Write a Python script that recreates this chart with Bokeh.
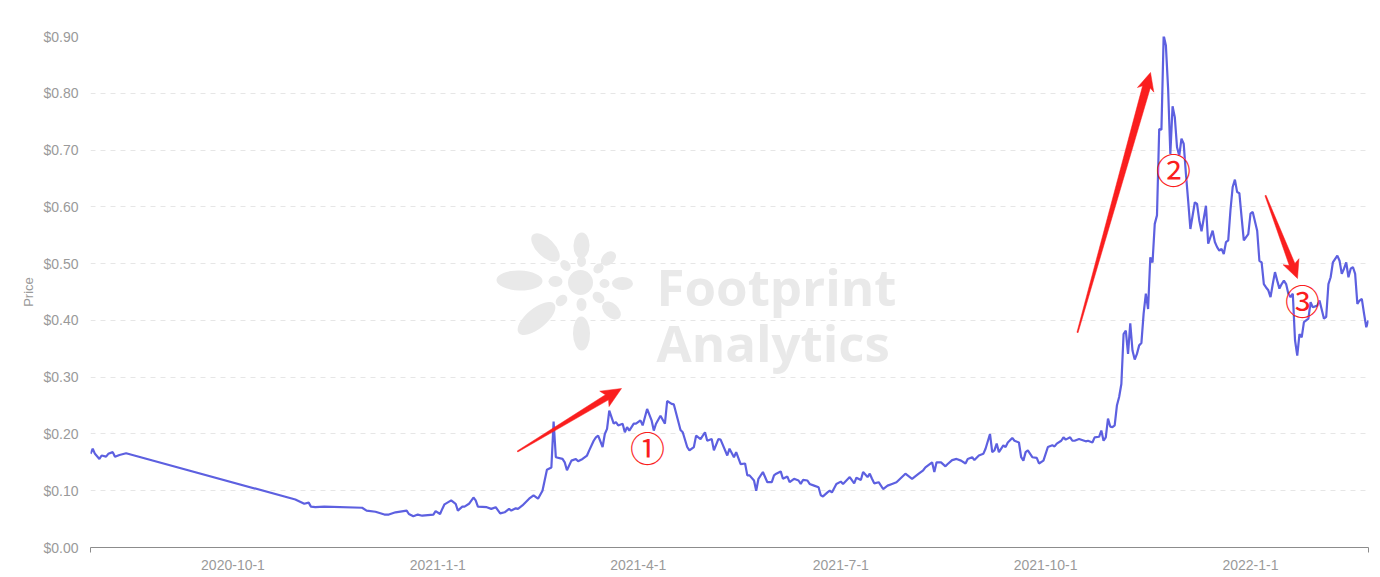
import math
from datetime import datetime, timedelta
import pandas as pd
from bokeh.plotting import figure
from bokeh.models import FixedTicker, NumeralTickFormatter, Range1d, ColumnDataSource
from bokeh.core.properties import value
from bokeh.embed import file_html
from bokeh.resources import INLINE

# ---------------- data ----------------
dates = [
    "2020-07-29", "2020-07-30", "2020-07-31", "2020-08-02", "2020-08-03", "2020-08-05", "2020-08-06",
    "2020-08-08", "2020-08-09", "2020-08-11", "2020-08-14",
    "2020-10-29", "2020-11-02", "2020-11-04", "2020-11-05", "2020-11-07", "2020-11-11", "2020-11-28",
    "2020-11-30", "2020-12-04", "2020-12-08", "2020-12-10", "2020-12-13", "2020-12-18", "2020-12-19",
    "2020-12-21", "2020-12-23", "2020-12-25", "2020-12-30", "2020-12-31",
    "2021-01-02", "2021-01-03", "2021-01-04", "2021-01-07", "2021-01-09", "2021-01-10", "2021-01-12",
    "2021-01-13", "2021-01-15", "2021-01-17", "2021-01-18", "2021-01-19", "2021-01-23", "2021-01-25",
    "2021-01-27", "2021-01-29", "2021-01-31",
    "2021-02-02", "2021-02-03", "2021-02-05", "2021-02-06", "2021-02-08", "2021-02-11", "2021-02-13",
    "2021-02-15", "2021-02-17", "2021-02-19", "2021-02-21", "2021-02-22", "2021-02-23", "2021-02-26",
    "2021-02-27", "2021-02-28",
    "2021-03-02", "2021-03-04", "2021-03-05", "2021-03-07", "2021-03-09", "2021-03-10", "2021-03-12",
    "2021-03-13", "2021-03-14", "2021-03-16", "2021-03-17", "2021-03-18", "2021-03-19", "2021-03-21",
    "2021-03-22", "2021-03-23", "2021-03-25", "2021-03-26", "2021-03-27", "2021-03-28", "2021-03-30",
    "2021-03-31",
    "2021-04-02", "2021-04-03", "2021-04-05", "2021-04-07", "2021-04-08", "2021-04-09", "2021-04-11",
    "2021-04-13", "2021-04-14", "2021-04-16", "2021-04-17", "2021-04-20", "2021-04-21", "2021-04-23",
    "2021-04-24", "2021-04-26", "2021-04-27", "2021-04-29",
    "2021-05-01", "2021-05-02", "2021-05-04", "2021-05-05", "2021-05-07", "2021-05-08", "2021-05-11",
    "2021-05-12", "2021-05-14", "2021-05-15", "2021-05-17", "2021-05-19", "2021-05-20", "2021-05-21",
    "2021-05-23", "2021-05-24", "2021-05-25", "2021-05-27", "2021-05-29", "2021-05-31",
    "2021-06-01", "2021-06-02", "2021-06-04", "2021-06-05", "2021-06-07", "2021-06-08", "2021-06-10",
    "2021-06-12", "2021-06-13", "2021-06-14", "2021-06-16", "2021-06-17", "2021-06-19", "2021-06-21",
    "2021-06-22", "2021-06-23", "2021-06-25", "2021-06-26", "2021-06-27", "2021-06-29",
    "2021-07-01", "2021-07-02", "2021-07-05", "2021-07-07", "2021-07-08", "2021-07-10", "2021-07-11",
    "2021-07-13", "2021-07-14", "2021-07-15", "2021-07-16", "2021-07-18", "2021-07-20", "2021-07-22",
    "2021-07-24", "2021-07-26", "2021-07-30",
    "2021-08-02", "2021-08-05", "2021-08-07", "2021-08-08", "2021-08-11", "2021-08-12", "2021-08-13",
    "2021-08-15", "2021-08-17", "2021-08-18", "2021-08-20", "2021-08-22", "2021-08-24", "2021-08-26",
    "2021-08-27", "2021-08-29", "2021-08-30",
    "2021-09-01", "2021-09-03", "2021-09-04", "2021-09-06", "2021-09-07", "2021-09-08", "2021-09-09",
    "2021-09-10", "2021-09-12", "2021-09-13", "2021-09-14", "2021-09-16", "2021-09-17", "2021-09-19",
    "2021-09-20", "2021-09-21", "2021-09-22", "2021-09-23", "2021-09-25", "2021-09-27", "2021-09-28",
    "2021-09-30",
    "2021-10-02", "2021-10-04", "2021-10-05", "2021-10-06", "2021-10-08", "2021-10-09", "2021-10-10",
    "2021-10-12", "2021-10-13", "2021-10-14", "2021-10-16", "2021-10-19", "2021-10-20", "2021-10-22",
    "2021-10-23", "2021-10-25", "2021-10-26", "2021-10-27", "2021-10-28", "2021-10-29", "2021-10-30",
    "2021-10-31",
    "2021-11-01", "2021-11-02", "2021-11-03", "2021-11-04", "2021-11-05", "2021-11-06", "2021-11-07",
    "2021-11-08", "2021-11-09", "2021-11-10", "2021-11-11", "2021-11-12", "2021-11-13", "2021-11-14",
    "2021-11-15", "2021-11-16", "2021-11-17", "2021-11-18", "2021-11-19", "2021-11-20", "2021-11-21",
    "2021-11-22", "2021-11-23", "2021-11-24", "2021-11-25", "2021-11-26", "2021-11-27", "2021-11-28",
    "2021-11-29", "2021-11-30",
    "2021-12-01", "2021-12-02", "2021-12-03", "2021-12-04", "2021-12-05", "2021-12-07", "2021-12-08",
    "2021-12-09", "2021-12-10", "2021-12-12", "2021-12-13", "2021-12-15", "2021-12-16", "2021-12-17",
    "2021-12-18", "2021-12-19", "2021-12-20", "2021-12-21", "2021-12-22", "2021-12-23", "2021-12-24",
    "2021-12-25", "2021-12-26", "2021-12-27", "2021-12-28", "2021-12-29", "2021-12-31",
    "2022-01-01", "2022-01-02", "2022-01-04", "2022-01-05", "2022-01-06", "2022-01-07", "2022-01-08",
    "2022-01-09", "2022-01-10", "2022-01-11", "2022-01-12", "2022-01-13", "2022-01-14", "2022-01-15",
    "2022-01-16", "2022-01-17", "2022-01-18", "2022-01-19", "2022-01-20", "2022-01-21", "2022-01-22",
    "2022-01-23", "2022-01-24", "2022-01-25", "2022-01-27", "2022-01-28", "2022-01-29", "2022-01-31",
    "2022-02-01", "2022-02-03", "2022-02-04", "2022-02-05", "2022-02-06", "2022-02-07", "2022-02-09",
    "2022-02-10", "2022-02-11", "2022-02-12", "2022-02-13", "2022-02-14", "2022-02-15", "2022-02-16",
    "2022-02-17", "2022-02-18", "2022-02-19", "2022-02-20", "2022-02-21", "2022-02-22", "2022-02-23",
]
prices = [
    0.165, 0.174, 0.165, 0.156, 0.162, 0.160, 0.165,
    0.168, 0.160, 0.163, 0.166,
    0.0845, 0.077, 0.079, 0.072, 0.071, 0.072, 0.070,
    0.065, 0.063, 0.058, 0.058, 0.062, 0.065, 0.059,
    0.055, 0.058, 0.056, 0.058, 0.064,
    0.059, 0.068, 0.076, 0.083, 0.077, 0.065, 0.072,
    0.072, 0.077, 0.088, 0.083, 0.072, 0.071, 0.068,
    0.071, 0.060, 0.062,
    0.068, 0.065, 0.069, 0.068, 0.074, 0.086, 0.092,
    0.086, 0.100, 0.137, 0.141, 0.222, 0.159, 0.156,
    0.150, 0.136,
    0.153, 0.156, 0.152, 0.156, 0.162, 0.171, 0.188,
    0.194, 0.197, 0.177, 0.200, 0.209, 0.241, 0.218,
    0.221, 0.215, 0.218, 0.203, 0.212, 0.206, 0.218,
    0.218,
    0.224, 0.215, 0.244, 0.224, 0.206, 0.218, 0.232,
    0.218, 0.258, 0.253, 0.252, 0.207, 0.203, 0.177,
    0.171, 0.177, 0.197, 0.191,
    0.203, 0.188, 0.191, 0.171, 0.191, 0.190, 0.162,
    0.174, 0.159, 0.168, 0.147, 0.148, 0.127, 0.127,
    0.118, 0.100, 0.121, 0.133, 0.115, 0.115,
    0.127, 0.130, 0.134, 0.121, 0.125, 0.115, 0.121,
    0.118, 0.112, 0.119, 0.118, 0.112, 0.109, 0.106,
    0.092, 0.090, 0.097, 0.100, 0.097, 0.112,
    0.116, 0.112, 0.124, 0.113, 0.123, 0.119, 0.133,
    0.124, 0.130, 0.121, 0.113, 0.115, 0.103, 0.109,
    0.112, 0.115, 0.130,
    0.121, 0.130, 0.136, 0.141, 0.150, 0.133, 0.150,
    0.150, 0.143, 0.147, 0.154, 0.156, 0.153, 0.148,
    0.156, 0.159, 0.154,
    0.162, 0.165, 0.174, 0.200, 0.168, 0.171, 0.183,
    0.168, 0.180, 0.177, 0.185, 0.193, 0.188, 0.185,
    0.159, 0.153, 0.168, 0.171, 0.159, 0.158, 0.148,
    0.153,
    0.177, 0.180, 0.178, 0.183, 0.188, 0.194, 0.190,
    0.194, 0.188, 0.188, 0.191, 0.187, 0.188, 0.185,
    0.194, 0.195, 0.206, 0.188, 0.194, 0.227, 0.213,
    0.212,
    0.215, 0.250, 0.265, 0.288, 0.376, 0.382, 0.341,
    0.395, 0.347, 0.331, 0.341, 0.356, 0.360, 0.412,
    0.447, 0.420, 0.511, 0.502, 0.570, 0.585, 0.737,
    0.736, 0.902, 0.884, 0.808, 0.693, 0.777, 0.758,
    0.705, 0.690,
    0.720, 0.711, 0.658, 0.611, 0.561, 0.608, 0.605,
    0.576, 0.557, 0.602, 0.535, 0.558, 0.538, 0.529,
    0.523, 0.526, 0.517, 0.538, 0.541, 0.594, 0.635,
    0.648, 0.626, 0.624, 0.582, 0.541, 0.552,
    0.588, 0.591, 0.558, 0.505, 0.502, 0.464, 0.458,
    0.453, 0.441, 0.464, 0.485, 0.470, 0.456, 0.464,
    0.470, 0.464, 0.447, 0.441, 0.447, 0.365, 0.338,
    0.376, 0.370, 0.397, 0.403, 0.432, 0.423, 0.426,
    0.435, 0.403, 0.406, 0.464, 0.476, 0.502, 0.514,
    0.505, 0.482, 0.491, 0.502, 0.476, 0.491, 0.494,
    0.482, 0.429, 0.435, 0.438, 0.412, 0.388, 0.400,
]
tick_dates = ["2020-10-01", "2021-01-01", "2021-04-01", "2021-07-01", "2021-10-01", "2022-01-01"]
tick_labels = ["2020-10-1", "2021-1-1", "2021-4-1", "2021-7-1", "2021-10-1", "2022-1-1"]
y_ticks = [0.0, 0.1, 0.2, 0.3, 0.4, 0.5, 0.6, 0.7, 0.8, 0.9]
notes = ["①", "②", "③"]

# ---------------- layout constants ----------------
X_START = datetime(2020, 7, 29)
X_END = datetime(2022, 2, 23)
Y_MAX = 0.9
W, H = 1380, 577
B_LEFT, B_RIGHT, B_TOP, B_BOTTOM = 90, 12, 36, 30
FRAME_W = W - B_LEFT - B_RIGHT
FRAME_H = H - B_TOP - B_BOTTOM
PAGE = 0  # Bokeh's page template has no body margin


def ms(d):
    return (d - datetime(1970, 1, 1)).total_seconds() * 1000.0


X0, X1 = ms(X_START), ms(X_END)


def px_to_x(px):
    return X0 + (px - PAGE - B_LEFT) / FRAME_W * (X1 - X0)


def px_to_y(py):
    return (PAGE + B_TOP + FRAME_H - py) / FRAME_H * Y_MAX


RED = "#fa1e1e"
LINE = "#5d60e0"
GREY = "#9a9a9a"
WM = "#e9e9e9"

p = figure(width=W, height=H, x_axis_type="datetime",
           x_range=Range1d(X0, X1), y_range=Range1d(0, Y_MAX),
           output_backend="svg", toolbar_location=None,
           min_border_left=B_LEFT, min_border_right=B_RIGHT,
           min_border_top=B_TOP, min_border_bottom=B_BOTTOM)
p.outline_line_color = None
p.background_fill_color = "white"
p.border_fill_color = "white"

# ---------------- watermark ----------------
logo_c = (580, 282)
petals = [
    (519, 280, 46, 20), (545, 247, 36, 18), (581, 245, 26, 16), (608, 258, 17, 12),
    (622, 283, 21, 13), (611, 310, 22, 14), (581, 333, 34, 17), (536, 318, 46, 20),
    (555, 281, 14, 11), (565, 265, 12, 9), (581, 261, 11, 9), (598, 268, 11, 9),
    (604, 283, 10, 9), (598, 297, 13, 10), (581, 304, 13, 10), (561, 300, 13, 10),
]
ex, ey, ew, eh, ea = [], [], [], [], []
for cx, cy, a, b in petals:
    ex.append(px_to_x(cx)); ey.append(px_to_y(cy))
    ew.append(a); eh.append(b)
    ea.append(math.atan2(-(cy - logo_c[1]), cx - logo_c[0]))
ex.append(px_to_x(logo_c[0])); ey.append(px_to_y(logo_c[1])); ew.append(25); eh.append(25); ea.append(0)
p.ellipse(x=ex, y=ey, width=ew, height=eh, angle=ea, width_units="screen", height_units="screen",
          fill_color=WM, line_color=None)
p.text(x=[px_to_x(656), px_to_x(656)], y=[px_to_y(285), px_to_y(341)], text=["Footprint", "Analytics"],
       text_font=value("Open Sans"), text_font_style="bold", text_font_size="51px",
       text_color=WM, text_baseline="alphabetic", text_align="left")

# ---------------- price line ----------------
src = ColumnDataSource(dict(date=pd.to_datetime(dates), price=prices))
p.line("date", "price", source=src, line_color=LINE, line_width=2.2)

# ---------------- red annotations ----------------
arrows = [  # tail(px), tip(px), head length, head width, shaft width
    ((517, 451), (621, 388), 17, 18, 6),
    ((1077, 332), (1150, 72), 15, 17, 8),
    ((1265, 195), (1297, 278), 15, 17, 6),
]
for (tx, ty), (hx, hy), hl, hw, sw in arrows:
    L = math.hypot(hx - tx, hy - ty)
    ux, uy = (hx - tx) / L, (hy - ty) / L
    nx, ny = -uy, ux
    bx, by = hx - ux * hl, hy - uy * hl
    pts = [(tx + nx * 0.6, ty + ny * 0.6), (bx + nx * sw / 2, by + ny * sw / 2),
           (bx - ux * 3 + nx * hw / 2, by - uy * 3 + ny * hw / 2), (hx, hy),
           (bx - ux * 3 - nx * hw / 2, by - uy * 3 - ny * hw / 2), (bx - nx * sw / 2, by - ny * sw / 2),
           (tx - nx * 0.6, ty - ny * 0.6)]
    p.patch([px_to_x(a) for a, _ in pts], [px_to_y(b) for _, b in pts],
            fill_color=RED, line_color=RED, line_width=0.5)

note_pos = [(647, 446), (1173, 168), (1302, 299)]
p.text(x=[px_to_x(a) for a, _ in note_pos], y=[px_to_y(b) for _, b in note_pos], text=notes,
       text_font=value("Noto Sans CJK SC"), text_font_size="35px", text_color=RED,
       text_align="center", text_baseline="middle")

# ---------------- axes ----------------
tick_ms = [ms(datetime.strptime(d, "%Y-%m-%d")) for d in tick_dates]
p.xaxis.ticker = FixedTicker(ticks=tick_ms, minor_ticks=[X0, X1])
p.xaxis.major_label_overrides = {t: lab for t, lab in zip(tick_ms, tick_labels)}
p.xaxis.axis_line_color = "#8c8c8c"
p.xaxis.major_tick_line_color = None
p.xaxis.major_tick_out = 0
p.xaxis.major_tick_in = 0
p.xaxis.minor_tick_line_color = "#8c8c8c"
p.xaxis.minor_tick_out = 5
p.xaxis.minor_tick_in = 0
p.xaxis.major_label_standoff = 7
p.xaxis.major_label_text_font = "Liberation Sans"
p.xaxis.major_label_text_font_size = "14px"
p.xaxis.major_label_text_color = GREY

p.yaxis.ticker = FixedTicker(ticks=y_ticks)
p.yaxis.formatter = NumeralTickFormatter(format="$0.00")
p.yaxis.axis_line_color = None
p.yaxis.major_tick_line_color = None
p.yaxis.minor_tick_line_color = None
p.yaxis.major_tick_out = 0
p.yaxis.major_label_standoff = 12
p.yaxis.major_label_text_font = "Liberation Sans"
p.yaxis.major_label_text_font_size = "14px"
p.yaxis.major_label_text_color = GREY
p.yaxis.axis_label = "Price"
p.yaxis.axis_label_text_font = "Liberation Sans"
p.yaxis.axis_label_text_font_size = "13px"
p.yaxis.axis_label_text_font_style = "normal"
p.yaxis.axis_label_text_color = GREY
p.yaxis.axis_label_standoff = 4

p.xgrid.grid_line_color = None
p.ygrid.grid_line_color = "#e6e6e6"
p.ygrid.grid_line_dash = "5 5"
p.ygrid.grid_line_width = 1

open("out.html", "w").write(file_html(p, INLINE))
